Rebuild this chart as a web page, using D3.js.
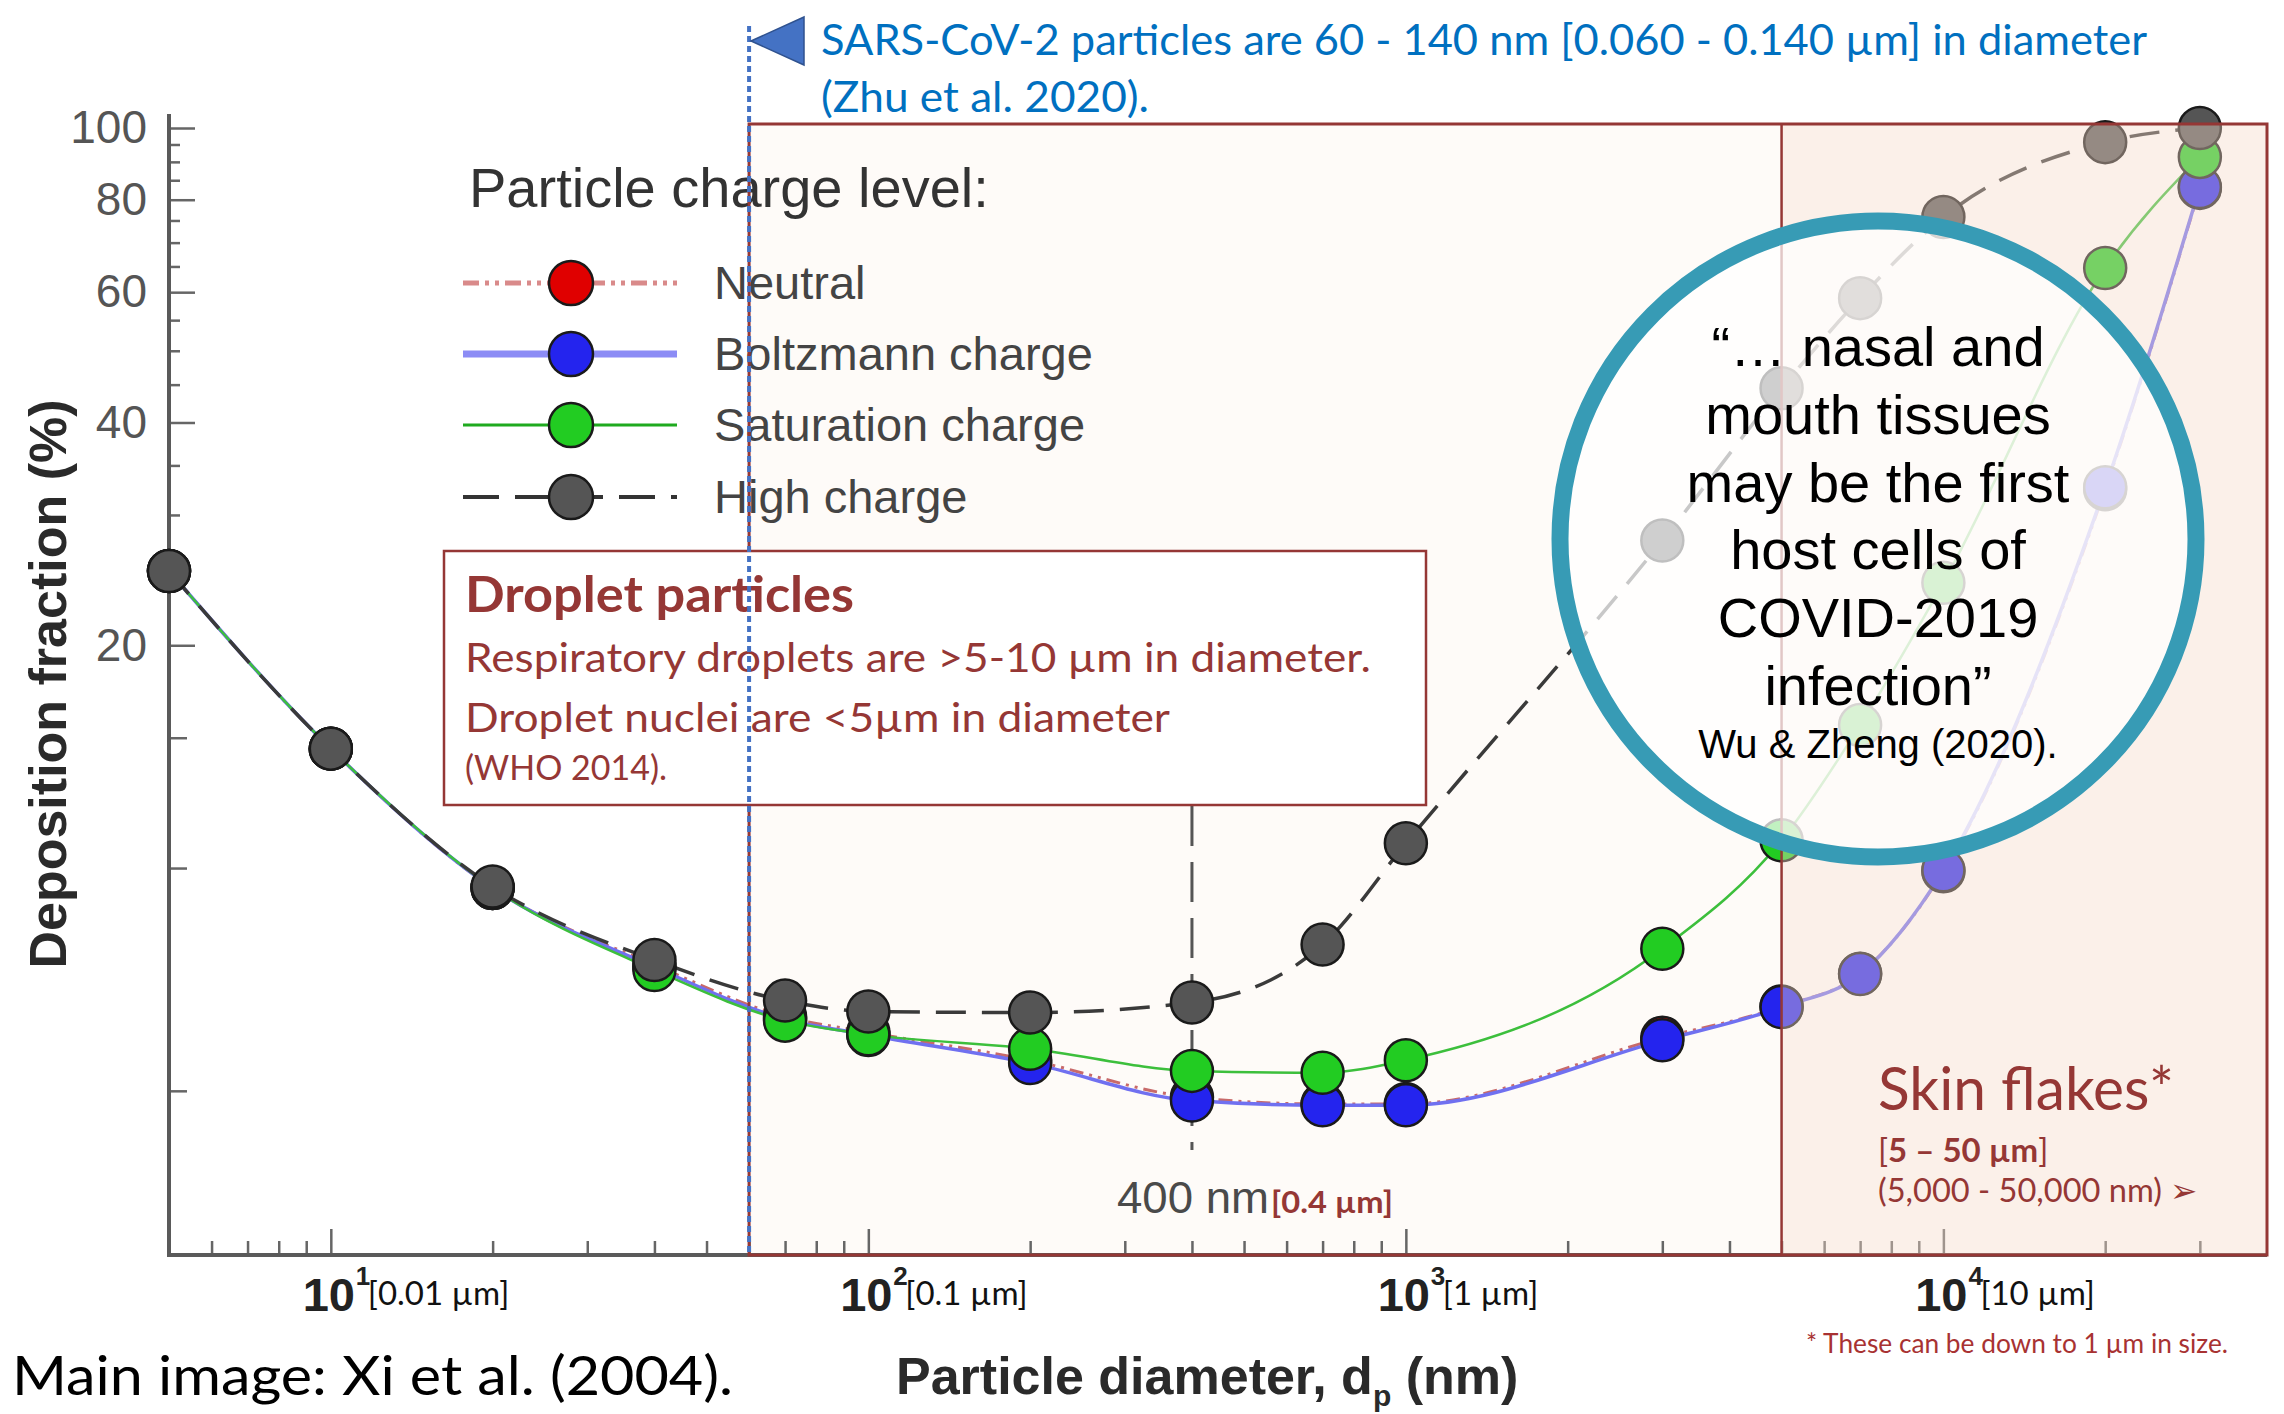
<!DOCTYPE html>
<html>
<head>
<meta charset="utf-8">
<script src="https://cdn.jsdelivr.net/npm/d3@7"></script>
<style>
  html, body { margin: 0; padding: 0; background: #fff; }
  svg { display: block; }
  text { font-family: "Liberation Sans", Arial, sans-serif; }
  text.cal { font-family: Lato, "Open Sans", sans-serif; }
</style>
</head>
<body>
<svg id="chart" width="2284" height="1414"></svg>
<script>
const sizesNm = [5, 10, 20, 40, 70, 100, 200, 400, 700, 1000, 3000, 5000, 7000, 10000, 20000, 30000];
const neutral = [25.2, 14.5, 9.4, 7.4, 6.3, 6.0, 5.5, 4.9, 4.8, 4.8, 5.9, 6.5, 7.2, 9.9, 32.5, 83];
const boltzmann = [25.2, 14.5, 9.4, 7.35, 6.25, 5.95, 5.45, 4.85, 4.78, 4.78, 5.85, 6.49, 7.19, 9.93, 32.7, 83.2];
const saturation = [25.2, 14.5, 9.4, 7.28, 6.22, 5.96, 5.7, 5.32, 5.29, 5.5, 7.78, 10.9, 15.6, 24.3, 64.7, 91.4];
const highCharge = [25.2, 14.5, 9.44, 7.51, 6.62, 6.4, 6.38, 6.58, 7.88, 10.8, 27.7, 44.5, 58.9, 75.8, 95.7, 100];

const seriesNames = ["Neutral", "Boltzmann charge", "Saturation charge", "High charge"];

const yLabelTicks = [20, 40, 60, 80, 100];
const yPlainTicks = [5, 10, 15];
const yMinorTicks = [25, 30, 35, 45, 50, 55, 65, 70, 75, 85, 90, 95];
const xMajorTicks = [10, 100, 1000, 10000];
const xMicronLabels = ["[0.01 µm]", "[0.1 µm]", "[1 µm]", "[10 µm]"];

const quoteLines = ["“… nasal and", "mouth tissues", "may be the first", "host cells of", "COVID-2019", "infection”"];

const styles = [
  { line: "#c86a6a", width: 3, dash: "14,6,3,6,3,6", dot: "#e00000" },
  { line: "#7070f0", width: 3.5, dash: null, dot: "#2424ee" },
  { line: "#3cbf3c", width: 2.5, dash: null, dot: "#22cc22" },
  { line: "#3a3a3a", width: 3.5, dash: "30,16", dot: "#555555" }
];
const legendStyles = [
  { line: "#d98a8a", width: 5, dash: "16,6,4,6,4,6" },
  { line: "#8c8cf5", width: 7, dash: null },
  { line: "#1faa1f", width: 3, dash: null },
  { line: "#333333", width: 4, dash: "36,16" }
];

const series = [neutral, boltzmann, saturation, highCharge].map((vals, i) => ({
  name: seriesNames[i],
  points: sizesNm.map((s, j) => [s, vals[j]]),
  style: styles[i]
}));

const svg = d3.select("#chart");
const x = d3.scaleLog().domain([5, 40000]).range([169, 2267]);
const y = d3.scaleLog().domain([3, 100]).range([1255, 128]);
const boxTop = y(100) - 4;
const red = "#953735";

svg.append("rect").attr("width", 2284).attr("height", 1414).attr("fill", "#fff");

// faint droplet band under the plot
svg.append("rect")
  .attr("x", x(60)).attr("y", boxTop)
  .attr("width", x(5000) - x(60)).attr("height", y(3) - boxTop)
  .attr("fill", "#fefbf8");

// AXES
const xMinor = x.ticks().filter(v => v > 5 && v < 40000 && !xMajorTicks.includes(v));
svg.append("g")
  .attr("transform", `translate(0,${y(3)})`)
  .call(d3.axisBottom(x).tickValues(xMinor).tickSize(-14).tickFormat(""))
  .call(g => g.select(".domain").remove());
svg.append("g")
  .attr("transform", `translate(0,${y(3)})`)
  .call(d3.axisBottom(x).tickValues(xMajorTicks).tickSize(-26).tickFormat(""))
  .call(g => g.select(".domain").remove());

svg.append("g")
  .attr("transform", `translate(${x(5)},0)`)
  .call(d3.axisLeft(y).tickValues(yMinorTicks).tickSize(-11).tickFormat(""))
  .call(g => g.select(".domain").remove());
svg.append("g")
  .attr("transform", `translate(${x(5)},0)`)
  .call(d3.axisLeft(y).tickValues(yPlainTicks).tickSize(-18).tickFormat(""))
  .call(g => g.select(".domain").remove());
svg.append("g")
  .attr("class", "ylab")
  .attr("transform", `translate(${x(5)},0)`)
  .call(d3.axisLeft(y).tickValues(yLabelTicks).tickSize(-26).tickPadding(22).tickFormat(d3.format("d")))
  .call(g => g.select(".domain").remove());

svg.selectAll(".tick line").attr("stroke", "#666").attr("stroke-width", 2.5);
svg.selectAll(".ylab text")
  .attr("font-size", 46).attr("fill", "#555")
  .attr("font-family", "Liberation Sans, Arial, sans-serif");

svg.append("line")
  .attr("x1", x(5)).attr("x2", x(40000)).attr("y1", y(3)).attr("y2", y(3))
  .attr("stroke", "#5a5a5a").attr("stroke-width", 4);
svg.append("line")
  .attr("x1", x(5)).attr("x2", x(5)).attr("y1", y(100) - 14).attr("y2", y(3) + 2)
  .attr("stroke", "#5a5a5a").attr("stroke-width", 4);

// x tick labels: 10^n plus micron equivalent
const xl = svg.append("g").selectAll("g").data(xMajorTicks).join("g");
xl.append("text")
  .attr("x", d => x(d) - 2).attr("y", 1311)
  .attr("text-anchor", "middle").attr("font-size", 47).attr("font-weight", "bold").attr("fill", "#222")
  .text("10");
xl.append("text")
  .attr("x", d => x(d) + 25).attr("y", 1285)
  .attr("font-size", 26).attr("font-weight", "bold").attr("fill", "#222")
  .text(d => Math.round(Math.log10(d)));
xl.append("text")
  .attr("class", "cal")
  .attr("x", d => x(d) + 37).attr("y", 1305)
  .attr("font-size", 33).attr("fill", "#111")
  .text((d, i) => xMicronLabels[i]);

// axis titles
svg.append("text")
  .attr("transform", "translate(66,684) rotate(-90)")
  .attr("text-anchor", "middle").attr("font-size", 52).attr("font-weight", "bold").attr("fill", "#2a2a2a")
  .text("Deposition fraction (%)");
const xt = svg.append("text")
  .attr("x", 896).attr("y", 1394)
  .attr("font-size", 52).attr("font-weight", "bold").attr("fill", "#2a2a2a");
xt.append("tspan").text("Particle diameter, d");
xt.append("tspan").attr("font-size", 30).attr("dy", 12).text("p");
xt.append("tspan").attr("dy", -12).text(" (nm)");

// 400 nm marker from the original figure
svg.append("line")
  .attr("x1", x(400)).attr("x2", x(400)).attr("y1", 806).attr("y2", 1150)
  .attr("stroke", "#555").attr("stroke-width", 3).attr("stroke-dasharray", "40,16");
svg.append("text")
  .attr("x", 1117).attr("y", 1213).attr("font-size", 45).attr("fill", "#4a4a4a")
  .attr("textLength", 152).attr("lengthAdjust", "spacingAndGlyphs")
  .text("400 nm");
svg.append("text")
  .attr("class", "cal")
  .attr("x", 1271).attr("y", 1213).attr("font-size", 31).attr("font-weight", "bold").attr("fill", red)
  .attr("textLength", 122).attr("lengthAdjust", "spacingAndGlyphs")
  .text("[0.4 µm]");

// LEGEND
svg.append("text")
  .attr("x", 469).attr("y", 207).attr("font-size", 56).attr("fill", "#333")
  .text("Particle charge level:");
const legendY = [283, 354, 425, 497];
const lg = svg.append("g").selectAll("g").data(series).join("g")
  .attr("transform", (d, i) => `translate(0,${legendY[i]})`);
lg.append("line")
  .attr("x1", 463).attr("x2", 677)
  .attr("stroke", (d, i) => legendStyles[i].line)
  .attr("stroke-width", (d, i) => legendStyles[i].width)
  .attr("stroke-dasharray", (d, i) => legendStyles[i].dash);
lg.append("circle")
  .attr("cx", 571).attr("r", 22)
  .attr("fill", d => d.style.dot).attr("stroke", "#1a1a1a").attr("stroke-width", 2.5);
lg.append("text")
  .attr("x", 714).attr("y", 16).attr("font-size", 47).attr("fill", "#444")
  .text(d => d.name);

// DATA
const line = d3.line()
  .x(d => x(d[0]))
  .y(d => y(d[1]))
  .curve(d3.curveMonotoneX);

svg.append("g").selectAll("path").data(series).join("path")
  .attr("d", d => line(d.points))
  .attr("fill", "none")
  .attr("stroke", d => d.style.line)
  .attr("stroke-width", d => d.style.width)
  .attr("stroke-dasharray", d => d.style.dash);

svg.append("g").selectAll("g").data(series).join("g")
  .selectAll("circle")
  .data(d => d.points.map(p => ({ p, fill: d.style.dot })))
  .join("circle")
  .attr("cx", d => x(d.p[0]))
  .attr("cy", d => y(d.p[1]))
  .attr("r", 21)
  .attr("fill", d => d.fill)
  .attr("stroke", "#1a1a1a")
  .attr("stroke-width", 2.5);

// skin flake band washes over the plot
svg.append("rect")
  .attr("x", x(5000)).attr("y", boxTop)
  .attr("width", x(40000) - x(5000)).attr("height", y(3) - boxTop)
  .attr("fill", "rgb(245,217,200)").attr("fill-opacity", 0.4);

svg.append("rect")
  .attr("x", x(60)).attr("y", boxTop)
  .attr("width", x(40000) - x(60)).attr("height", y(3) - boxTop)
  .attr("fill", "none").attr("stroke", red).attr("stroke-width", 3);
svg.append("line")
  .attr("x1", x(5000)).attr("x2", x(5000)).attr("y1", boxTop).attr("y2", y(3))
  .attr("stroke", red).attr("stroke-width", 2.5);

// DROPLET BOX
svg.append("rect")
  .attr("x", 444).attr("y", 551).attr("width", 982).attr("height", 254)
  .attr("fill", "#fff").attr("stroke", red).attr("stroke-width", 2.5);
const dropletText = [
  { t: "Droplet particles", y: 612, size: 49, bold: true, w: 389 },
  { t: "Respiratory droplets are >5-10 µm in diameter.", y: 672, size: 41, bold: false, w: 906 },
  { t: "Droplet nuclei are <5µm in diameter", y: 732, size: 41, bold: false, w: 705 },
  { t: "(WHO 2014).", y: 780, size: 34, bold: false, w: 202 }
];
svg.append("g").selectAll("text").data(dropletText).join("text")
  .attr("class", "cal")
  .attr("x", 465).attr("y", d => d.y)
  .attr("font-size", d => d.size)
  .attr("font-weight", d => d.bold ? "bold" : "normal")
  .attr("textLength", d => d.w).attr("lengthAdjust", "spacingAndGlyphs")
  .attr("fill", red)
  .text(d => d.t);

// SARS-CoV-2 marker
svg.append("line")
  .attr("x1", x(60)).attr("x2", x(60)).attr("y1", 26).attr("y2", y(3))
  .attr("stroke", "#4472c4").attr("stroke-width", 4).attr("stroke-dasharray", "6,4");
svg.append("polygon")
  .attr("points", "751,41 804,17 804,65")
  .attr("fill", "#4472c4").attr("stroke", "#2f528f").attr("stroke-width", 1.5);
svg.append("text")
  .attr("class", "cal")
  .attr("x", 821).attr("y", 55).attr("font-size", 43).attr("fill", "#0070c0")
  .attr("textLength", 1326).attr("lengthAdjust", "spacingAndGlyphs")
  .text("SARS-CoV-2 particles are 60 - 140 nm [0.060 - 0.140 µm] in diameter");
svg.append("text")
  .attr("class", "cal")
  .attr("x", 821).attr("y", 112).attr("font-size", 43).attr("fill", "#0070c0")
  .attr("textLength", 328).attr("lengthAdjust", "spacingAndGlyphs")
  .text("(Zhu et al. 2020).");

// QUOTE CIRCLE
svg.append("circle")
  .attr("cx", 1878).attr("cy", 539).attr("r", 318)
  .attr("fill", "#fff").attr("fill-opacity", 0.72)
  .attr("stroke", "#379bb5").attr("stroke-width", 17);
svg.append("g").selectAll("text").data(quoteLines).join("text")
  .attr("x", 1878).attr("y", (d, i) => 366 + i * 67.8)
  .attr("text-anchor", "middle").attr("font-size", 56).attr("fill", "#000")
  .text(d => d);
svg.append("text")
  .attr("x", 1878).attr("y", 758)
  .attr("text-anchor", "middle").attr("font-size", 40).attr("fill", "#000")
  .text("Wu & Zheng (2020).");

// SKIN FLAKES
svg.append("text")
  .attr("class", "cal")
  .attr("x", 1878).attr("y", 1110).attr("font-size", 60).attr("fill", red)
  .attr("textLength", 296).attr("lengthAdjust", "spacingAndGlyphs")
  .text("Skin flakes*");
const sf = svg.append("text")
  .attr("class", "cal")
  .attr("x", 1878).attr("y", 1162).attr("font-size", 33).attr("fill", red);
sf.append("tspan").text("[");
sf.append("tspan").attr("font-weight", "bold").text("5 – 50 µm");
sf.append("tspan").text("]");
svg.append("text")
  .attr("class", "cal")
  .attr("x", 1878).attr("y", 1202).attr("font-size", 33).attr("fill", red)
  .attr("textLength", 320).attr("lengthAdjust", "spacingAndGlyphs")
  .text("(5,000 - 50,000 nm) ➢");

// FOOTNOTES
svg.append("text")
  .attr("class", "cal")
  .attr("x", 1806).attr("y", 1353).attr("font-size", 26).attr("fill", "#a83232")
  .attr("textLength", 422).attr("lengthAdjust", "spacingAndGlyphs")
  .text("* These can be down to 1 µm in size.");
svg.append("text")
  .attr("class", "cal")
  .attr("x", 12).attr("y", 1395).attr("font-size", 54).attr("fill", "#000")
  .attr("textLength", 721).attr("lengthAdjust", "spacingAndGlyphs")
  .text("Main image: Xi et al. (2004).");
</script>
</body>
</html>
